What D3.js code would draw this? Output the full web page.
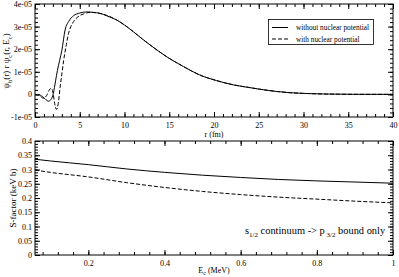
<!DOCTYPE html>
<html>
<head>
<meta charset="utf-8">
<script src="https://cdn.jsdelivr.net/npm/d3@7"></script>
<style>
  body { margin: 0; background: #fff; }
  svg text { font-family: "Liberation Serif", "Times New Roman", "DejaVu Serif", serif !important; fill: #000; }
  .tick text { font-size: 8px; }
  .domain { display: none; }
</style>
</head>
<body>
<div id="chart"></div>
<script>
// top panel: overlap function, values in units of 1e-05
var rSolid = [0, 0.5, 1.0, 1.5, 1.8, 2.05, 2.3, 2.5, 2.75, 3.0, 3.36, 3.8, 4.3, 5.0, 5.8, 6.5, 7.26, 8.0, 9.13, 10, 11, 12, 12.85, 14.7, 16.6, 18.4, 20.3, 22.2, 24, 25.1, 27, 28.5, 30, 32.2, 34, 36, 40];
var vSolid = [0, -0.02, -0.15, -0.3, -0.22, 0.05, 0.6, 1.05, 1.5, 1.95, 2.85, 3.25, 3.48, 3.6, 3.65, 3.63, 3.59, 3.48, 3.29, 3.07, 2.77, 2.45, 2.19, 1.67, 1.23, 0.86, 0.61, 0.42, 0.3, 0.23, 0.13, 0.075, 0.045, 0.018, 0.01, 0.004, 0.002];
var rDashed = [0, 0.5, 0.93, 1.3, 1.6, 1.8, 2.0, 2.2, 2.4, 2.6, 2.8, 3.0, 3.2, 3.5, 3.75, 4.2, 4.7, 5.5, 6.2, 7.0, 8.0];
var vDashed = [0, -0.05, -0.17, -0.05, 0.2, 0.27, 0.1, -0.4, -0.66, -0.4, 0.3, 0.9, 1.5, 2.2, 2.7, 3.15, 3.4, 3.57, 3.63, 3.6, 3.5];

// bottom panel: S-factor
var energy = [0.06, 0.1, 0.2, 0.3, 0.4, 0.5, 0.6, 0.7, 0.8, 0.9, 1.0];
var sWithout = [0.336, 0.330, 0.317, 0.302, 0.290, 0.280, 0.272, 0.265, 0.260, 0.256, 0.252];
var sWith = [0.298, 0.290, 0.274, 0.254, 0.237, 0.223, 0.212, 0.203, 0.196, 0.189, 0.183];

var legendLabels = ["without nuclear potential", "with nuclear potential"];
var rTicks = [0, 5, 10, 15, 20, 25, 30, 35, 40];
var psiTicks = [-1e-5, 0, 1e-5, 2e-5, 3e-5, 4e-5];
var eTicks = [0.2, 0.4, 0.6, 0.8, 1];
var sTicks = [0, 0.05, 0.1, 0.15, 0.2, 0.25, 0.3, 0.35, 0.4];

var width = 399, height = 277;
var left = 35, right = 393;

var svg = d3.select("#chart").append("svg")
    .attr("width", width)
    .attr("height", height);

// helper: draw framed panel with inward ticks on all sides
function frame(x, y, majorX, minorX, majorY, minorY, fmtX, fmtY) {
    var g = svg.append("g");
    var y0 = y.range()[0], y1 = y.range()[1];
    var x0 = x.range()[0], x1 = x.range()[1];

    g.append("g").attr("transform", "translate(0," + y0 + ")")
        .call(d3.axisBottom(x).tickValues(minorX).tickSize(-3).tickFormat(""));
    g.append("g").attr("transform", "translate(0," + y0 + ")")
        .call(d3.axisBottom(x).tickValues(majorX).tickSize(-5).tickPadding(5).tickFormat(fmtX));
    g.append("g").attr("transform", "translate(0," + y1 + ")")
        .call(d3.axisTop(x).tickValues(minorX).tickSize(-3).tickFormat(""));
    g.append("g").attr("transform", "translate(0," + y1 + ")")
        .call(d3.axisTop(x).tickValues(majorX).tickSize(-5).tickFormat(""));

    g.append("g").attr("transform", "translate(" + x0 + ",0)")
        .call(d3.axisLeft(y).tickValues(minorY).tickSize(-3).tickFormat(""));
    g.append("g").attr("transform", "translate(" + x0 + ",0)")
        .call(d3.axisLeft(y).tickValues(majorY).tickSize(-5).tickPadding(3).tickFormat(fmtY));
    g.append("g").attr("transform", "translate(" + x1 + ",0)")
        .call(d3.axisRight(y).tickValues(minorY).tickSize(-3).tickFormat(""));
    g.append("g").attr("transform", "translate(" + x1 + ",0)")
        .call(d3.axisRight(y).tickValues(majorY).tickSize(-5).tickFormat(""));

    g.selectAll(".tick line").attr("stroke", "#000");

    g.append("rect")
        .attr("x", x0).attr("y", y1)
        .attr("width", x1 - x0).attr("height", y0 - y1)
        .attr("fill", "none").attr("stroke", "#000").attr("stroke-width", 1);
    return g;
}

function expFmt(d) {
    if (d === 0) return "0";
    var s = d.toExponential(0);
    return s.replace(/e([+-])(\d)$/, "e$10$2");
}

// ---------- top panel ----------
var x1 = d3.scaleLinear().domain([0, 40]).range([left, right]);
var y1 = d3.scaleLinear().domain([-1e-5, 4e-5]).range([117, 4]);

frame(x1, y1, rTicks, d3.range(0, 41, 1), psiTicks, d3.range(-10, 41, 2).map(function(d) { return d * 1e-6; }),
    function(d) { return d; }, expFmt);

var line1 = d3.line()
    .x(function(d) { return x1(d[0]); })
    .y(function(d) { return y1(d[1] * 1e-5); })
    .curve(d3.curveMonotoneX);

svg.append("path")
    .datum(d3.zip(rSolid, vSolid))
    .attr("d", line1)
    .attr("fill", "none").attr("stroke", "#000").attr("stroke-width", 1);

// the dashed curve merges with the solid one after r = 8
var dashedData = d3.zip(rDashed, vDashed).concat(d3.zip(rSolid, vSolid).filter(function(d) { return d[0] > 8; }));
svg.append("path")
    .datum(dashedData)
    .attr("d", line1)
    .attr("fill", "none").attr("stroke", "#000").attr("stroke-width", 1)
    .attr("stroke-dasharray", "4,2");

// legend
var leg = svg.append("g");
leg.append("rect")
    .attr("x", 268.5).attr("y", 19.5).attr("width", 105).attr("height", 25)
    .attr("fill", "#fff").attr("stroke", "#000").attr("stroke-width", 0.8);
legendLabels.forEach(function(t, i) {
    var yy = 27.5 + i * 11.5;
    leg.append("line")
        .attr("x1", 272).attr("x2", 288).attr("y1", yy).attr("y2", yy)
        .attr("stroke", "#000").attr("stroke-width", 1)
        .attr("stroke-dasharray", i === 1 ? "4,2" : null);
    leg.append("text")
        .attr("x", 296).attr("y", yy + 2.5)
        .style("font-size", "7.3px")
        .text(t);
});

svg.append("text")
    .attr("x", (left + right) / 2).attr("y", 137)
    .attr("text-anchor", "middle")
    .style("font-size", "8px")
    .text("r (fm)");

var yt1 = svg.append("text")
    .attr("transform", "translate(9,61) rotate(-90)")
    .attr("text-anchor", "middle")
    .style("font-size", "9px");
yt1.append("tspan").text("\u03c8");
yt1.append("tspan").attr("dy", 2.5).style("font-size", "6.5px").text("b");
yt1.append("tspan").attr("dy", -2.5).text("(r) r  \u03c8");
yt1.append("tspan").attr("dy", 2.5).style("font-size", "6.5px").text("c");
yt1.append("tspan").attr("dy", -2.5).text("(r, E");
yt1.append("tspan").attr("dy", 2.5).style("font-size", "6.5px").text("c");
yt1.append("tspan").attr("dy", -2.5).text(")");

// ---------- bottom panel ----------
var x2 = d3.scaleLinear().domain([0.06, 1]).range([left, right]);
var y2 = d3.scaleLinear().domain([0, 0.4]).range([255, 141]);

frame(x2, y2, eTicks, d3.range(0.08, 1.001, 0.04), sTicks, d3.range(0, 0.401, 0.01),
    function(d) { return d === 1 ? "1" : d3.format(".1f")(d); },
    function(d) { return String(+d.toFixed(2)); });

var line2 = d3.line()
    .x(function(d) { return x2(d[0]); })
    .y(function(d) { return y2(d[1]); })
    .curve(d3.curveMonotoneX);

svg.append("path")
    .datum(d3.zip(energy, sWithout))
    .attr("d", line2)
    .attr("fill", "none").attr("stroke", "#000").attr("stroke-width", 1);

svg.append("path")
    .datum(d3.zip(energy, sWith))
    .attr("d", line2)
    .attr("fill", "none").attr("stroke", "#000").attr("stroke-width", 1)
    .attr("stroke-dasharray", "4,2");

var xt2 = svg.append("text")
    .attr("x", (left + right) / 2).attr("y", 273)
    .attr("text-anchor", "middle")
    .style("font-size", "8px");
xt2.append("tspan").text("E");
xt2.append("tspan").attr("dy", 2).style("font-size", "6px").text("c");
xt2.append("tspan").attr("dy", -2).text(" (MeV)");

svg.append("text")
    .attr("transform", "translate(16,198) rotate(-90)")
    .attr("text-anchor", "middle")
    .style("font-size", "9px")
    .text("S-factor  (keV b)");

var note = svg.append("text")
    .attr("x", 245).attr("y", 234)
    .style("font-size", "10.4px");
note.append("tspan").text("s");
note.append("tspan").attr("dy", 3).style("font-size", "7px").text("1/2");
note.append("tspan").attr("dy", -3).text(" continuum -> p");
note.append("tspan").attr("dy", 3).style("font-size", "7px").text(" 3/2");
note.append("tspan").attr("dy", -3).text("  bound only");
</script>
</body>
</html>
